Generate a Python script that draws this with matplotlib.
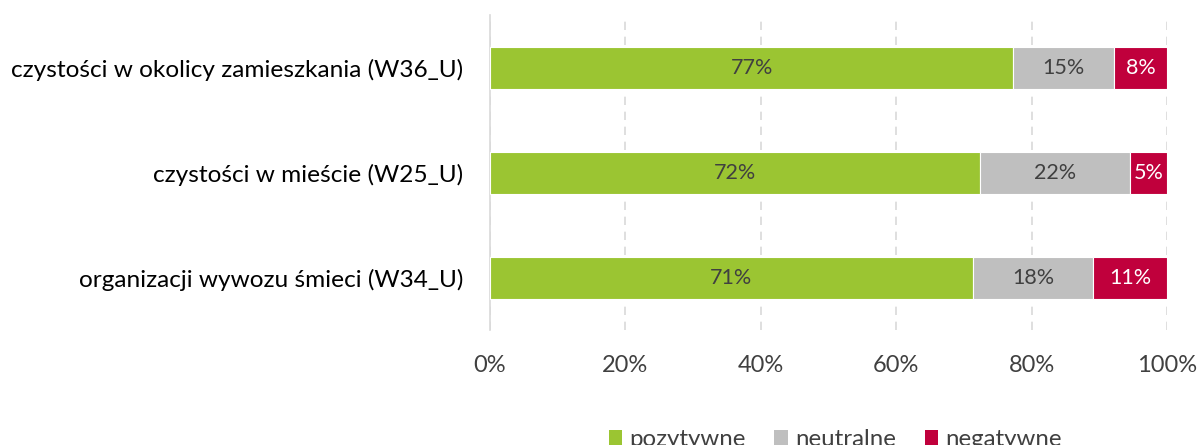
import matplotlib.pyplot as plt
from matplotlib.patches import Patch

plt.rcParams['font.family'] = ['Lato', 'DejaVu Sans']

categories = [
    "czystości w okolicy zamieszkania (W36_U)",
    "czystości w mieście (W25_U)",
    "organizacji wywozu śmieci (W34_U)",
]
pozytywne = [77.3, 72.4, 71.3]
neutralne = [14.9, 22.2, 17.8]
negatywne = [7.8, 5.4, 10.9]
series_names = ["pozytywne", "neutralne", "negatywne"]
xticks = [0, 20, 40, 60, 80, 100]

colors = ["#9BC532", "#BFBFBF", "#C0003C"]
text_colors = ["#404040", "#404040", "white"]

fig = plt.figure(figsize=(12, 4.45), dpi=100)
ax = fig.add_axes([0.4083, 0.258, 0.5642, 0.708])

y = list(range(len(categories)))
left = [0.0] * len(categories)
for vals, col, tcol in zip([pozytywne, neutralne, negatywne], colors, text_colors):
    bars = ax.barh(y, vals, left=left, height=0.4, color=col,
                   edgecolor="white", linewidth=0.8, zorder=3)
    for b, v, l in zip(bars, vals, left):
        ax.text(l + v / 2, b.get_y() + b.get_height() / 2, f"{round(v):d}%",
                ha="center", va="center", fontsize=15.5, color=tcol, zorder=4)
    left = [l + v for l, v in zip(left, vals)]

ax.set_ylim(2.5, -0.5)
ax.set_xlim(0, 100)
ax.set_yticks(y)
ax.set_yticklabels(categories, fontsize=17.6, color="black")
ax.set_xticks(xticks)
ax.set_xticklabels([f"{t}%" for t in xticks], fontsize=17, color="#404040")
ax.tick_params(axis="both", length=0)
ax.tick_params(axis="x", pad=18)
ax.tick_params(axis="y", pad=19)

ax.grid(axis="x", color="#D9D9D9", linestyle=(0, (5, 4)), linewidth=1.2, zorder=0)
for s in ["top", "right", "bottom"]:
    ax.spines[s].set_visible(False)
ax.spines["left"].set_color("#D9D9D9")
ax.spines["left"].set_linewidth(1.2)

handles = [Patch(facecolor=c, edgecolor="none") for c in colors]
fig.legend(handles, series_names, loc="center", bbox_to_anchor=(0.696, 0.012),
           ncol=3, frameon=False, fontsize=17.3, handlelength=0.55,
           handleheight=0.55, handletextpad=0.3, columnspacing=1.2,
           labelcolor="#404040")

fig.savefig("out.png", dpi=100)
